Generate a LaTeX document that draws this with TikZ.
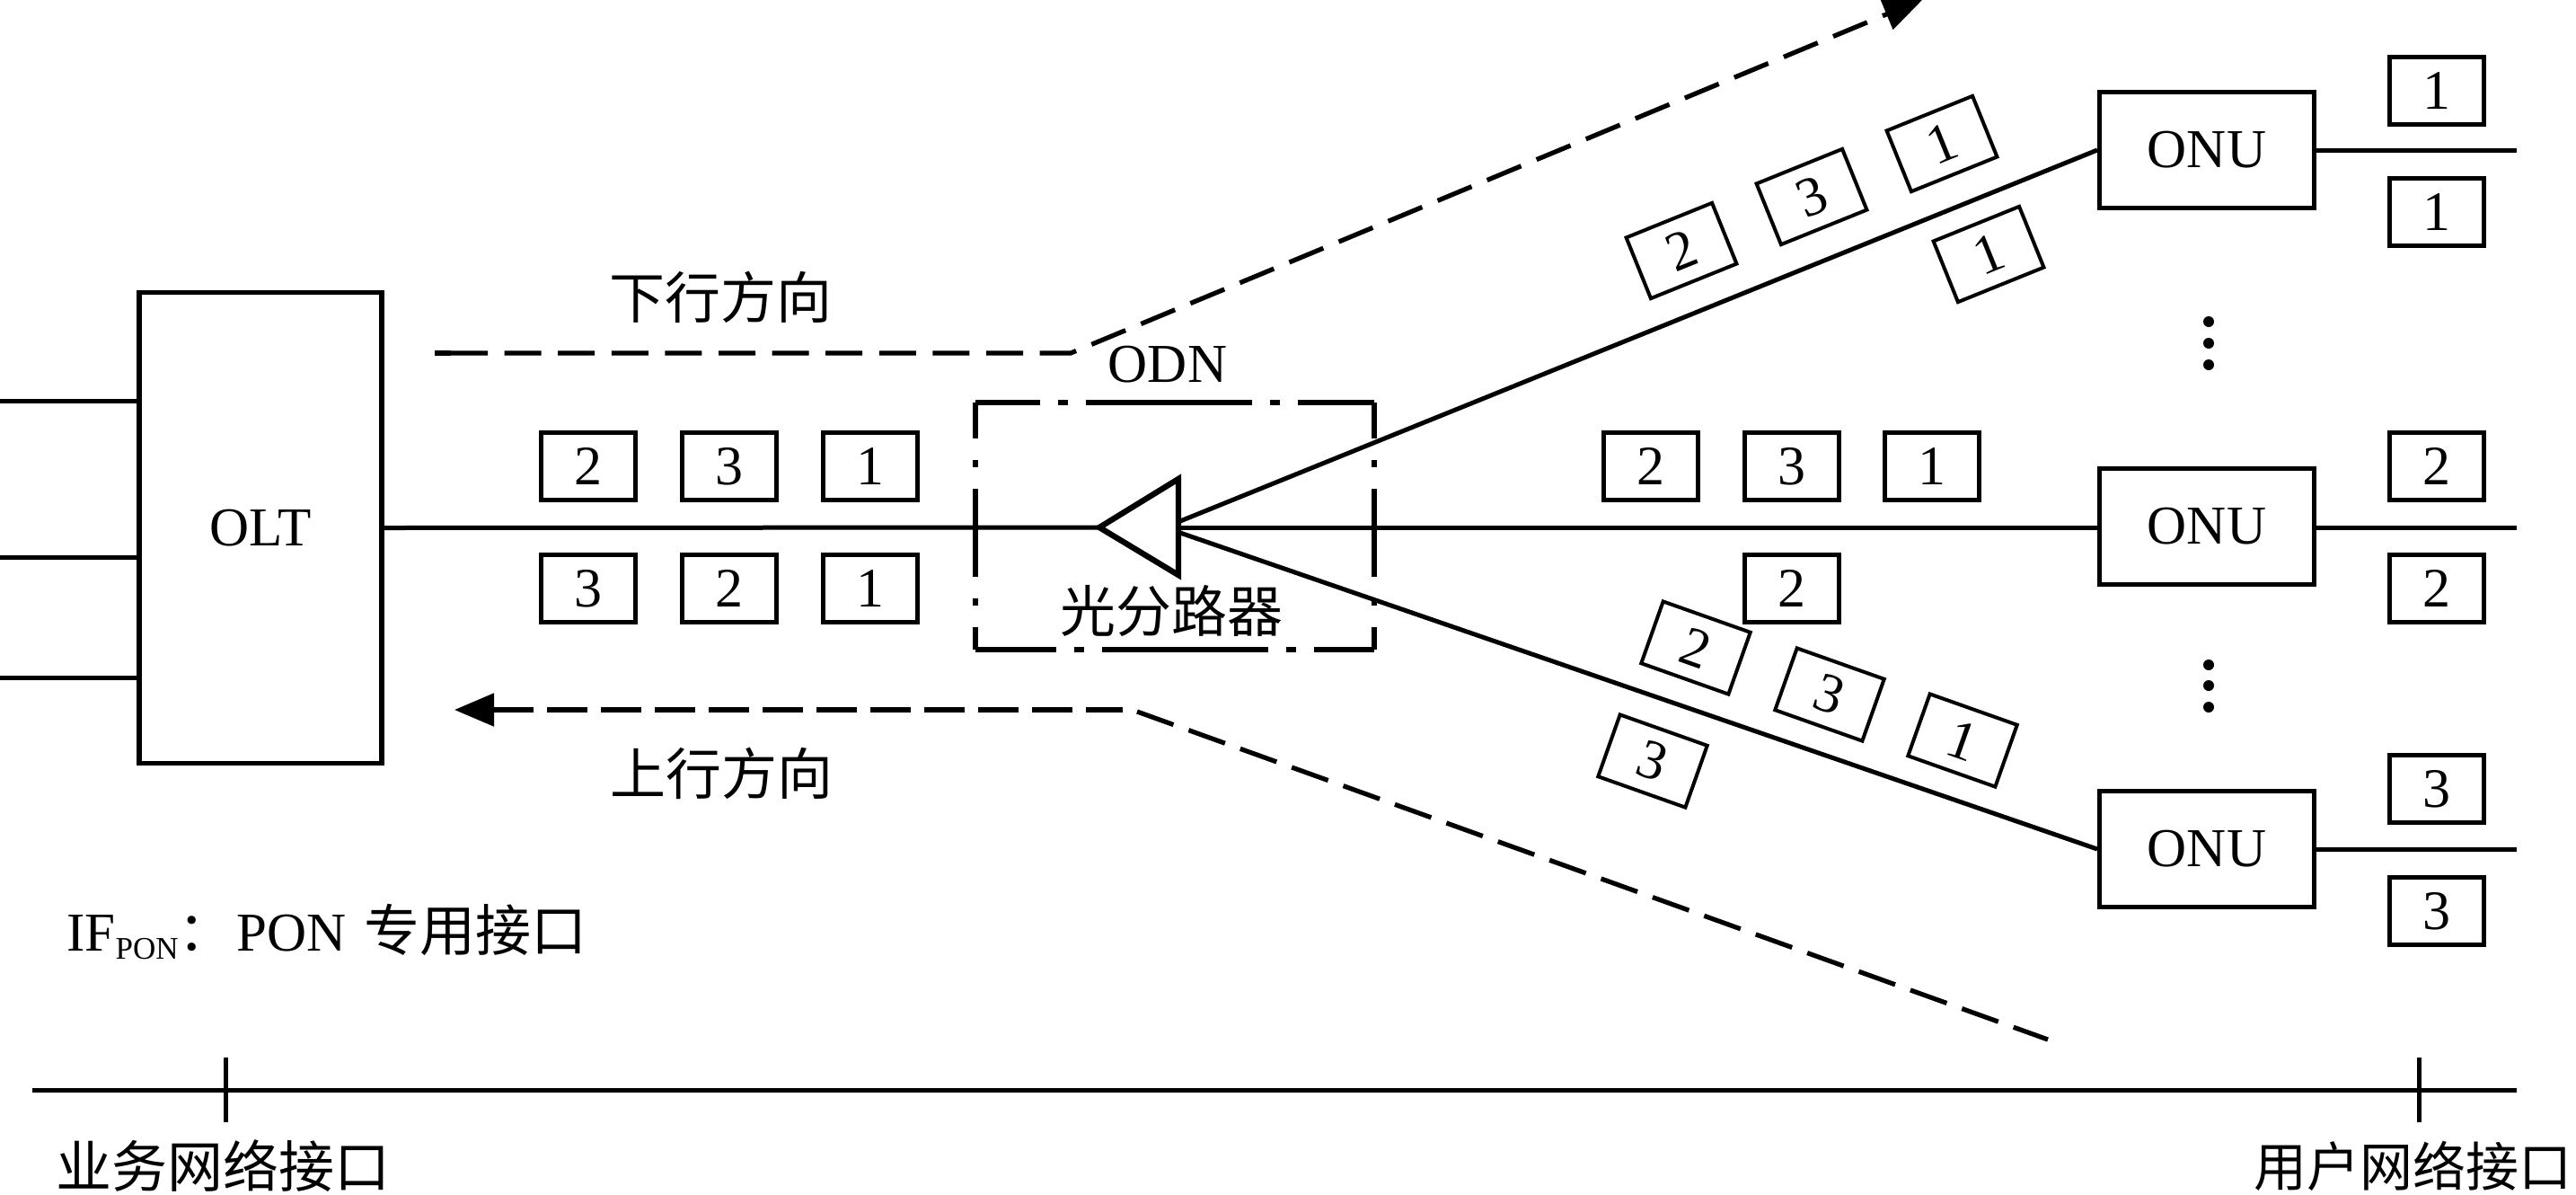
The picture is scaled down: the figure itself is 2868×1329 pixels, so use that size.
\documentclass[tikz,border=0pt]{standalone}
\usepackage{fontspec}
\setmainfont{Liberation Serif}
\newfontfamily\cjk{Noto Sans CJK SC}
\usetikzlibrary{arrows.meta}
\tikzset{
  lin/.style={line width=2.5pt},
  pkt/.style={draw,line width=2.6pt,minimum width=52.4pt,minimum height=37.4pt,inner sep=0pt,font=\fontsize{31}{33}\selectfont},
  tilt/.style={pkt,line width=2pt,minimum width=51.5pt,minimum height=36.5pt},
  unit/.style={draw,line width=2.6pt,minimum width=119.4pt,minimum height=64.4pt,inner sep=0pt,font=\fontsize{30.5}{32}\selectfont},
  lab/.style={inner sep=0pt,font=\fontsize{30.5}{32}\selectfont},
  zh/.style={inner sep=0pt,font=\fontsize{31}{33}\selectfont\cjk},
  flow/.style={line width=2.6pt},
  flowa/.style={flow,dash pattern=on 20.5pt off 9.3pt},
  flowb/.style={flow,dash pattern=on 22.5pt off 7.5pt},
  flowc/.style={flow,dash pattern=on 21.5pt off 9pt},
  tipm/.style={-{Triangle[length=22pt,width=18pt]}},
  framea/.style={line width=2.6pt,dash pattern=on 92.5pt off 10pt on 5.5pt off 10pt},
  frameb/.style={line width=2.6pt,dash pattern=on 49pt off 12pt on 4pt off 12pt},
  tickm/.style={line width=2.5pt},
  dotm/.style={fill=black,circle,inner sep=0pt,minimum size=6pt}
}
\begin{document}
\begin{tikzpicture}[x=0.5pt,y=-0.5pt]
\path[use as bounding box,fill=white] (0,0) rectangle (2868,1329);

% main boxes
\node[unit,minimum width=135pt,minimum height=262pt] (olt) at (290,587.5) {OLT};
\node[unit] (onua) at (2457,167) {ONU};
\node[unit] (onub) at (2457,586) {ONU};
\node[unit] (onuc) at (2457,945) {ONU};

% splitter
\coordinate (tip) at (1224,587);
\coordinate (top) at (1312,533);
\coordinate (bot) at (1312,640);
\coordinate (midr) at (1312,587);
\coordinate (upa) at (1314,580);
\coordinate (upb) at (1314,593);

% OLT stubs
\coordinate (sa) at (0,446);
\coordinate (sb) at (0,620);
\coordinate (sc) at (0,754);
\draw[lin] (sa) -- (sa-|olt.west);
\draw[lin] (sb) -- (sb-|olt.west);
\draw[lin] (sc) -- (sc-|olt.west);

% fibres
\draw[lin] (olt.east) -- (tip);
\draw[lin] (midr) -- (onub.west|-midr);
\draw[lin] (upa) -- (onua.west);
\draw[lin] (upb) -- (onuc.west);
\draw[line width=3.2pt,fill=white,line join=miter] (tip) -- (top) -- (bot) -- cycle;

% ONU outputs
\coordinate (ea) at (2802,167);
\coordinate (eb) at (2802,587);
\coordinate (ec) at (2802,945);
\draw[lin] (onua.east) -- (ea);
\draw[lin] (onub.east|-eb) -- (eb);
\draw[lin] (onuc.east|-ec) -- (ec);

% ODN frame
\coordinate (nw) at (1086,448);
\coordinate (ne) at (1530,448);
\coordinate (sw) at (1086,723);
\coordinate (se) at (1530,723);
\draw[framea,dash phase=56.5pt] (nw) -- (ne);
\draw[framea,dash phase=47.5pt] (sw) -- (se);
\draw[frameb,dash phase=29pt] (nw) -- (sw);
\draw[frameb,dash phase=29pt] (ne) -- (se);

% flow arrows
\coordinate (da) at (484,393);
\coordinate (dd) at (502,393);
\coordinate (db) at (1192,393);
\coordinate (dc) at (2141,-1);
\draw[flow] (da) -- (dd);
\draw[flowa,tipm] (dd) -- (db) -- (dc);
\coordinate (ua) at (1249.5,790);
\coordinate (ub) at (506,790);
\coordinate (uc) at (1266,792);
\coordinate (ud) at (2280,1157);
\draw[flowb,dash phase=2pt,tipm] (ua) -- (ub);
\draw[flowc] (uc) -- (ud);

% packets left
\node[pkt] (la) at (655,519) {2};
\node[pkt] (lb) at (812,519) {3};
\node[pkt] (lc) at (969,519) {1};
\node[pkt] (ld) at (655,655) {3};
\node[pkt] (le) at (812,655) {2};
\node[pkt] (lf) at (969,655) {1};

% packets middle
\node[pkt] (ma) at (1838,519) {2};
\node[pkt] (mb) at (1995,519) {3};
\node[pkt] (mc) at (2151,519) {1};
\node[pkt] (md) at (1995,655) {2};

% packets right
\node[pkt] (ra) at (2713,101) {1};
\node[pkt] (rb) at (2713,236) {1};
\node[pkt] (rc) at (2713,519) {2};
\node[pkt] (rd) at (2713,655) {2};
\node[pkt] (re) at (2713,878) {3};
\node[pkt] (rf) at (2713,1014) {3};

% tilted packets
\node[tilt,rotate=22] (ta) at (1872,279) {2};
\node[tilt,rotate=22] (tb) at (2017,219) {3};
\node[tilt,rotate=22] (tc) at (2162,160) {1};
\node[tilt,rotate=22] (td) at (2214,283) {1};
\node[tilt,rotate=-19.5] (te) at (1888,721) {2};
\node[tilt,rotate=-19.5] (tf) at (2037,773) {3};
\node[tilt,rotate=-19.5] (tg) at (2185,824) {1};
\node[tilt,rotate=-19.5] (th) at (1840,847) {3};

% dots
\node[dotm] (pa) at (2459,358) {};
\node[dotm] (pb) at (2459,382) {};
\node[dotm] (pc) at (2459,406) {};
\node[dotm] (pd) at (2459,740) {};
\node[dotm] (pe) at (2459,763) {};
\node[dotm] (pf) at (2459,787) {};

% labels
\node[zh] (down) at (802,331) {下行方向};
\node[zh] (upw) at (803,861) {上行方向};
\node[lab] (odn) at (1300,406) {ODN};
\node[zh] (spl) at (1304,680) {光分路器};
\node[lab,anchor=base west] (ifp) at (74,1058) {IF\raisebox{-4.5pt}{\fontsize{17.5}{18}\selectfont PON}{\cjk ：}\hspace{2pt}PON\hspace{10pt}{\fontsize{31}{33}\selectfont\cjk 专用接口}};

% reference line
\coordinate (ra1) at (36,1213);
\coordinate (ra2) at (2802,1213);
\draw[lin] (ra1) -- (ra2);
\coordinate (tla) at (251,1177);
\coordinate (tlb) at (251,1249);
\coordinate (tra) at (2693,1177);
\coordinate (trb) at (2693,1249);
\draw[tickm] (tla) -- (tlb);
\draw[tickm] (tra) -- (trb);
\node[zh] (ifa) at (248,1298) {业务网络接口};
\node[zh,font=\fontsize{29.5}{31}\selectfont\cjk,anchor=east] (ifb) at (2864,1298) {用户网络接口};
\end{tikzpicture}
\end{document}
